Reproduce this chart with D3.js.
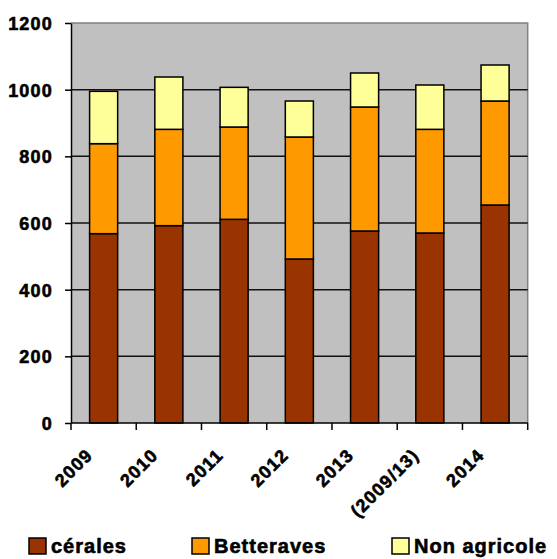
<!DOCTYPE html>
<html>
<head>
<meta charset="utf-8">
<script src="https://cdn.jsdelivr.net/npm/d3@7"></script>
<style>
  html, body { margin: 0; padding: 0; background: #fff; }
  svg text { font-family: "Liberation Sans", Arial, sans-serif !important; font-weight: 700 !important; fill: #000; stroke: #000; stroke-width: 0.6px; }
</style>
</head>
<body>
<svg id="chart" width="557" height="559"></svg>
<script>
const categories = ["2009", "2010", "2011", "2012", "2013", "(2009/13)", "2014"];
const cereales   = [568, 592, 611, 492, 576, 570, 654];
const betteraves = [270, 289, 277, 366, 372, 311, 312];
const nonAgricole = [157, 157, 119, 108, 102, 133, 108];
const seriesNames = ["cérales", "Betteraves", "Non agricole"];
const seriesColors = ["#993300", "#FF9900", "#FFFF99"];
const yTicks = [0, 200, 400, 600, 800, 1000, 1200];

const svg = d3.select("#chart");
const L = 71, T = 23, R = 527.7, B = 423;

const rows = categories.map((c, i) => ({ cat: c, s0: cereales[i], s1: betteraves[i], s2: nonAgricole[i] }));
const stacked = d3.stack().keys(["s0", "s1", "s2"])(rows);

const x = d3.scaleBand().domain(categories).range([L, R]).paddingInner(0.57).paddingOuter(0.285);
const y = d3.scaleLinear().domain([0, 1200]).range([B, T]);

svg.append("rect").attr("x", L).attr("y", T).attr("width", R - L).attr("height", B - T).attr("fill", "#C0C0C0");
svg.append("path").attr("d", `M${L},${T}H${R}V${B}`).attr("fill", "none").attr("stroke", "#808080").attr("stroke-width", 1.5);

svg.append("g").selectAll("line").data(yTicks.filter(t => t > 0 && t < 1200)).join("line")
  .attr("x1", L).attr("x2", R).attr("y1", d => y(d)).attr("y2", d => y(d))
  .attr("stroke", "#111").attr("stroke-width", 1.5);

svg.append("g").selectAll("g").data(stacked).join("g")
  .attr("fill", (d, i) => seriesColors[i])
  .selectAll("rect").data(d => d).join("rect")
  .attr("x", d => x(d.data.cat))
  .attr("width", x.bandwidth())
  .attr("y", d => y(d[1]))
  .attr("height", d => y(d[0]) - y(d[1]))
  .attr("stroke", "#000").attr("stroke-width", 1.5);

const yAxis = svg.append("g").attr("transform", `translate(${L},0)`)
  .call(d3.axisLeft(y).tickValues(yTicks).tickFormat(d3.format("d")).tickSize(6).tickSizeOuter(0).tickPadding(12));
yAxis.select(".domain").attr("stroke", "#000").attr("stroke-width", 1.5);
yAxis.selectAll(".tick line").attr("stroke", "#000").attr("stroke-width", 1.5);
yAxis.selectAll(".tick text").attr("font-size", 18).style("letter-spacing", "1.2px").attr("dy", "0.36em");

const step = x.step();
const boundaries = d3.range(categories.length + 1).map(i => L + i * step);
const xg = svg.append("g");
xg.append("line").attr("x1", L).attr("x2", R).attr("y1", B).attr("y2", B).attr("stroke", "#000").attr("stroke-width", 1.5);
xg.selectAll("line.tk").data(boundaries).join("line").attr("class", "tk")
  .attr("x1", d => d).attr("x2", d => d).attr("y1", B).attr("y2", B + 7)
  .attr("stroke", "#000").attr("stroke-width", 1.5);
xg.selectAll("text").data(categories).join("text")
  .attr("transform", d => `translate(${x(d) + x.bandwidth() / 2 - 14},${B + 29}) rotate(-45)`)
  .attr("text-anchor", "end").attr("dominant-baseline", "central")
  .attr("font-size", 18).style("letter-spacing", "1.2px")
  .text(d => d);

const legendX = [29, 192, 392];
const lg = svg.append("g").selectAll("g").data(seriesNames).join("g")
  .attr("transform", (d, i) => `translate(${legendX[i]},538)`);
lg.append("rect").attr("width", 17).attr("height", 16).attr("fill", (d, i) => seriesColors[i])
  .attr("stroke", "#000").attr("stroke-width", 1.5);
lg.append("text").attr("x", 22).attr("y", 15).attr("font-size", 20)
  .style("letter-spacing", "1px").text(d => d);
</script>
</body>
</html>
